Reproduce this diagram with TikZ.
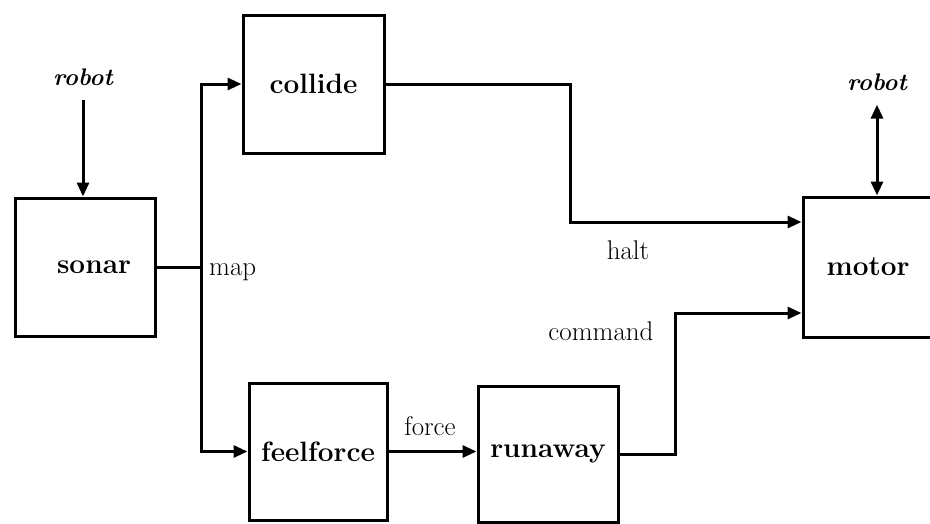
\documentclass[tikz,border=0pt]{standalone}
\usetikzlibrary{arrows.meta,calc}
\begin{document}
\begin{tikzpicture}[x=1pt,y=-1pt,
  box/.style={draw,line width=3pt,rectangle,minimum width=#1,minimum height=138pt,inner sep=0pt,font=\fontsize{28}{30}\selectfont\bfseries},
  box/.default=140pt,
  lbl/.style={inner sep=0pt,font=\fontsize{27}{30}\selectfont},
  rob/.style={inner sep=0pt,font=\fontsize{24}{26}\selectfont\bfseries\itshape},
  wire/.style={line width=3pt},
  arr/.style={line width=3pt,-{Triangle[length=14pt,width=12pt]}},
  darr/.style={line width=3pt,{Triangle[length=14pt,width=12pt]}-{Triangle[length=14pt,width=12pt]}}]
\useasboundingbox (0,0) rectangle (930,523);
\clip (0,0) rectangle (930,523);
% boxes
\node[box] (sonar) at (85,267) {\hspace*{18pt}sonar};
\node[box=141pt] (collide) at (313.5,84) {collide};
\node[box=138pt,minimum height=137pt] (feelforce) at (318,451.5) {feelforce};
\node[box=140pt,minimum height=136pt] (runaway) at (548,454) {runaway};
\node[box=140pt,minimum height=140pt] (motor) at (873,267) {\hspace*{-10pt}motor};
% external labels
\node[rob] (robotL) at (83,77) {robot};
\node[rob] (robotR) at (877,82) {robot};
% connector labels
\node[lbl,anchor=west] (map) at (209,272) {map};
\node[lbl] (halt) at (628,250) {halt};
\node[lbl] (command) at (601,331) {command};
\node[lbl] (force) at (430,426) {force};
% junction coordinates
\coordinate (j) at (201,267);
\coordinate (mh) at ([yshift=45pt]motor.west);
\coordinate (mc) at ([yshift=-46pt]motor.west);
% connectors
\draw[arr,shorten <=14pt] (robotL.south) -- (robotL.south |- sonar.north);
\draw[darr] ([yshift=-14pt]robotR.south) -- (robotR.south |- motor.north);
\draw[wire] (sonar.east) -- (j);
\draw[arr] (j) |- (collide.west);
\draw[arr] (j) |- (feelforce.west);
\draw[arr] (collide.east) -| (570,222) -- (mh);
\draw[arr] (feelforce.east) -- (feelforce.east -| runaway.west);
\draw[arr] (runaway.east) -| (675,313) -- (mc);
\end{tikzpicture}
\end{document}
